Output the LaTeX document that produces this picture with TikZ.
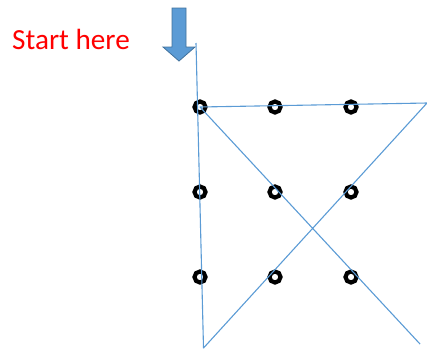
\documentclass[tikz,border=0pt]{standalone}
\usepackage{fontspec}
\setmainfont{Carlito}
\definecolor{lineblue}{HTML}{5B9BD5}
\definecolor{arrowedge}{HTML}{41719C}
\definecolor{startred}{HTML}{FF0000}
\begin{document}
\begin{tikzpicture}[x=1pt,y=-1pt,
  dot/.style={circle,draw=black,line width=4.2pt,minimum size=11pt,inner sep=0pt},
  path line/.style={draw=lineblue,line width=1.1pt,line join=round}]
\useasboundingbox (0,0) rectangle (427,349);
% dots
\foreach \c/\x in {1/200,2/275,3/351}{
  \foreach \r/\y in {1/107,2/192,3/277}{
    \node[dot] (d\r\c) at (\x,\y) {};
  }
}
% path coordinates
\coordinate (s) at (196,43);
\coordinate (b) at (203.5,348);
\coordinate (r) at (427,103);
\coordinate (e) at (420,344);
\draw[path line] (s) -- (b) -- (r) -- (d11.center) -- (e);
% block arrow
\draw[fill=lineblue,draw=arrowedge,line width=0.8pt,line join=miter]
  (172,8) -- (186,8) -- (186,47) -- (195,47) -- (179,61) -- (163,47) -- (172,47) -- cycle;
% label
\node[text=startred,font=\fontsize{29.2}{32}\selectfont,anchor=base west,inner sep=0pt] (lbl) at (12,49) {Start here};
\end{tikzpicture}
\end{document}
